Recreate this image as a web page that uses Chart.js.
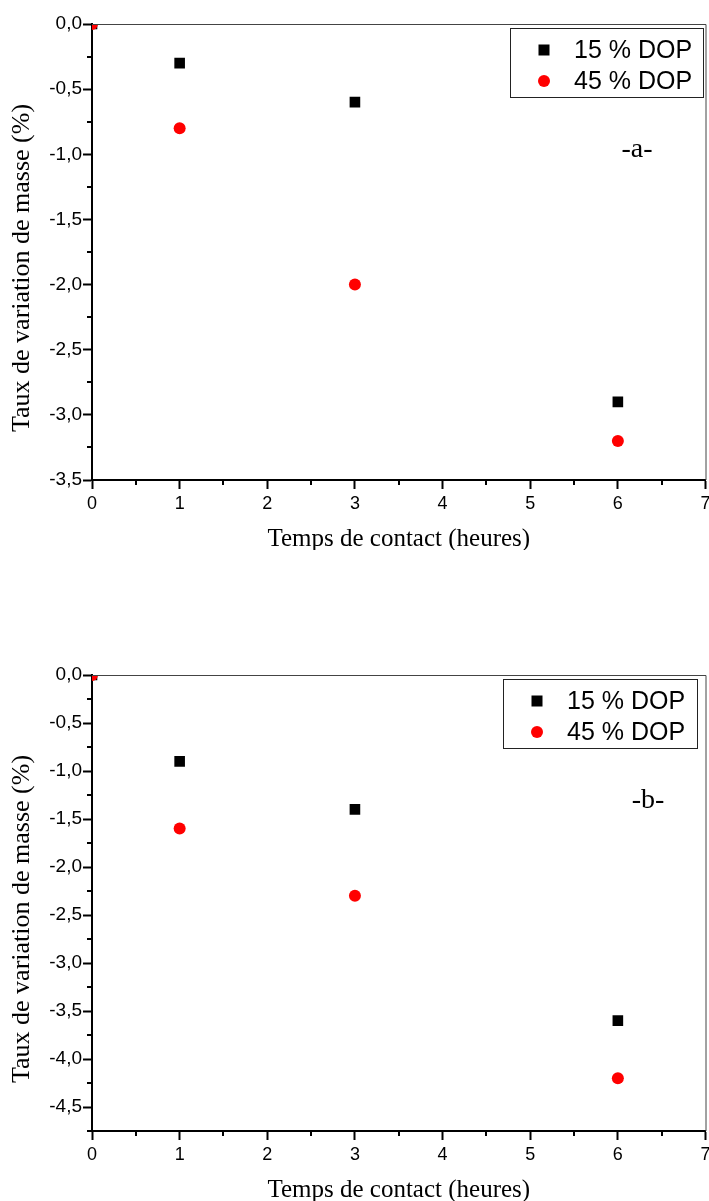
<!DOCTYPE html>
<html>
<head>
<meta charset="utf-8">
<script src="https://cdn.jsdelivr.net/npm/chart.js@4/dist/chart.umd.min.js"></script>
<style>
  html, body { margin: 0; padding: 0; background: #fff; overflow: hidden; width: 709px; height: 1201px; }
  .panel { position: absolute; left: 0; width: 713px; height: 550px; }
  #panelA { top: 0; }
  #panelB { top: 651px; }
</style>
</head>
<body>
<div class="panel" id="panelA"><canvas id="chartA" width="713" height="550"></canvas></div>
<div class="panel" id="panelB"><canvas id="chartB" width="713" height="550"></canvas></div>
<script>
// contact time (hours) and mass change (%) for both samples
const hours = [0, 1, 3, 6];
const massA15 = [0, -0.3, -0.6, -2.9];
const massA45 = [0, -0.8, -2.0, -3.2];
const massB15 = [0, -0.9, -1.4, -3.6];
const massB45 = [0, -1.6, -2.3, -4.2];

const seriesNames = ["15 % DOP", "45 % DOP"];
const xTicks = [0, 1, 2, 3, 4, 5, 6, 7];
const yTicksA = [0, -0.5, -1.0, -1.5, -2.0, -2.5, -3.0, -3.5];
const yTicksB = [0, -0.5, -1.0, -1.5, -2.0, -2.5, -3.0, -3.5, -4.0, -4.5];

const xTitle = "Temps de contact (heures)";
const yTitle = "Taux de variation de masse (%)";

const SANS = "'Liberation Sans', Arial, sans-serif";
const SERIF = "'Liberation Serif', 'Times New Roman', serif";

function toPoints(xs, ys) {
    return xs.map((x, i) => ({ x: x, y: ys[i] }));
}

function fmtComma(v) {
    return Number(v).toFixed(1).replace(".", ",").replace("-0,0", "0,0");
}

// minor ticks, top/right frame, axis titles, legend and panel tag
const decorations = {
    id: "decorations",
    afterDraw(chart, args, opts) {
        const ctx = chart.ctx;
        const xs = chart.scales.x;
        const ys = chart.scales.y;
        const area = chart.chartArea;
        ctx.save();

        // frame on top and right
        ctx.strokeStyle = "#444";
        ctx.lineWidth = 1;
        ctx.beginPath();
        ctx.moveTo(area.left, area.top + 0.5);
        ctx.lineTo(area.right + 0.5, area.top + 0.5);
        ctx.lineTo(area.right + 0.5, area.bottom);
        ctx.stroke();

        // minor ticks
        ctx.strokeStyle = "#000";
        ctx.lineWidth = 2;
        ctx.beginPath();
        for (let i = 0; i < xTicks.length - 1; i++) {
            const px = Math.round(xs.getPixelForValue((xTicks[i] + xTicks[i + 1]) / 2));
            ctx.moveTo(px, area.bottom);
            ctx.lineTo(px, area.bottom + 5);
        }
        const n = Math.round((ys.max - ys.min) / 0.25);
        for (let k = 1; k <= n; k++) {
            if (k % 2 === 0) continue;
            const py = Math.round(ys.getPixelForValue(ys.max - k * 0.25));
            ctx.moveTo(area.left, py);
            ctx.lineTo(area.left - 5, py);
        }
        ctx.stroke();

        // axis titles
        ctx.fillStyle = "#000";
        ctx.font = "25px " + SERIF;
        ctx.textAlign = "center";
        ctx.textBaseline = "middle";
        ctx.fillText(xTitle, (area.left + area.right) / 2, 539);
        ctx.save();
        ctx.translate(22, 268);
        ctx.rotate(-Math.PI / 2);
        ctx.font = "26px " + SERIF;
        ctx.fillText(yTitle, 0, 0);
        ctx.restore();

        // panel tag
        ctx.font = "28px " + SERIF;
        ctx.fillText(opts.tag, opts.tagX, 150);

        // legend
        const b = opts.box;
        ctx.strokeStyle = "#222";
        ctx.lineWidth = 1;
        ctx.strokeRect(b.x + 0.5, b.y + 0.5, b.w, b.h);
        ctx.font = "25px " + SANS;
        ctx.textAlign = "left";
        chart.data.datasets.forEach((ds, i) => {
            const cy = b.y + 22 + i * 31;
            const cx = b.x + 34;
            ctx.fillStyle = ds.backgroundColor;
            if (ds.pointStyle === "rect") {
                ctx.fillRect(cx - 5.5, cy - 5.5, 11, 11);
            } else {
                ctx.beginPath();
                ctx.arc(cx, cy, 6, 0, Math.PI * 2);
                ctx.fill();
            }
            ctx.fillStyle = "#000";
            ctx.fillText(ds.label, b.x + 64, cy + 1);
        });
        ctx.restore();
    }
};

function makeChart(canvasId, s15, s45, yTicks, yMin, extra) {
    return new Chart(document.getElementById(canvasId), {
        type: "scatter",
        data: {
            datasets: [
                {
                    label: seriesNames[0],
                    data: toPoints(hours, s15),
                    pointStyle: "rect",
                    pointRadius: 7.5,
                    backgroundColor: "#000000",
                    borderColor: "#000000",
                    borderWidth: 0,
                    order: 1
                },
                {
                    label: seriesNames[1],
                    data: toPoints(hours, s45),
                    pointStyle: "circle",
                    pointRadius: 6,
                    backgroundColor: "#ff0000",
                    borderColor: "#ff0000",
                    borderWidth: 0,
                    order: 0
                }
            ]
        },
        options: {
            responsive: false,
            animation: false,
            devicePixelRatio: 1,
            layout: { padding: { top: 24, right: 1, left: 0, bottom: 0 } },
            plugins: {
                legend: { display: false },
                tooltip: { enabled: false },
                decorations: extra
            },
            scales: {
                x: {
                    type: "linear",
                    min: 0,
                    max: 7,
                    afterBuildTicks: s => { s.ticks = xTicks.map(v => ({ value: v })); },
                    afterFit: s => { s.height = 70; s.paddingLeft = 0; s.paddingRight = 0; },
                    border: { display: true, color: "#000", width: 2 },
                    grid: { drawOnChartArea: false, drawTicks: true, tickLength: 9, tickColor: "#000", tickWidth: 2 },
                    ticks: {
                        color: "#000",
                        padding: 4,
                        maxRotation: 0,
                        font: { family: SANS, size: 18 },
                        callback: v => String(v)
                    }
                },
                y: {
                    type: "linear",
                    min: yMin,
                    max: 0,
                    afterBuildTicks: s => { s.ticks = yTicks.map(v => ({ value: v })); },
                    afterFit: s => { s.width = 92; },
                    border: { display: true, color: "#000", width: 2 },
                    grid: { drawOnChartArea: false, drawTicks: true, tickLength: 9, tickColor: "#000", tickWidth: 2 },
                    ticks: {
                        color: "#000",
                        padding: 1,
                        font: { family: SANS, size: 19 },
                        callback: v => fmtComma(v)
                    }
                }
            }
        },
        plugins: [decorations]
    });
}

makeChart("chartA", massA15, massA45, yTicksA, -3.5,
    { tag: "-a-", tagX: 637, box: { x: 510, y: 28, w: 193, h: 69 } });
makeChart("chartB", massB15, massB45, yTicksB, -4.75,
    { tag: "-b-", tagX: 648, box: { x: 503, y: 28, w: 194, h: 69 } });
</script>
</body>
</html>
